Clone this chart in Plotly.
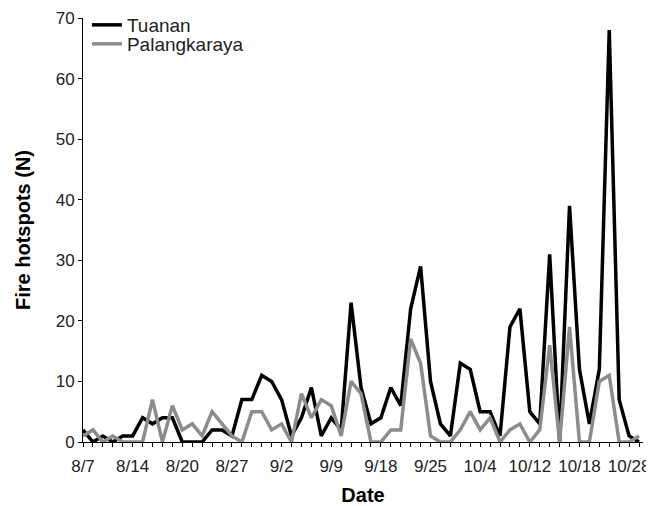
import plotly.graph_objects as go

# Data (daily series, categories indexed 0..56)
tuanan = [2, 0, 1, 0, 1, 1, 4, 3, 4, 4, 0, 0, 0, 2, 2, 1, 7, 7, 11, 10,
          7, 1, 4, 9, 1, 4, 2, 23, 9, 3, 4, 9, 6, 22, 29, 10, 3, 1, 13, 12,
          5, 5, 1, 19, 22, 5, 3, 31, 0, 39, 12, 3, 12, 68, 7, 1, 0]
palangkaraya = [1, 2, 0, 1, 0, 0, 0, 7, 0, 6, 2, 3, 1, 5, 3, 1, 0, 5, 5, 2,
                3, 0, 8, 4, 7, 6, 1, 10, 8, 0, 0, 2, 2, 17, 13, 1, 0, 0, 2, 5,
                2, 4, 0, 2, 3, 0, 2, 16, 0, 19, 0, 0, 10, 11, 0, 0, 1]
date_labels = ["8/7", "8/14", "8/20", "8/27", "9/2", "9/9", "9/18",
               "9/25", "10/4", "10/12", "10/18", "10/28"]
label_step = 5

x = list(range(len(tuanan)))
tickvals = x
ticktext = [date_labels[i // label_step] if (i % label_step == 0 and i // label_step < len(date_labels)) else "" for i in x]

fig = go.Figure()
fig.add_trace(go.Scatter(x=x, y=tuanan, mode="lines", name="Tuanan", legend="legend",
                         line=dict(color="#000000", width=3.5)))
fig.add_trace(go.Scatter(x=x, y=palangkaraya, mode="lines", name="Palangkaraya", legend="legend2",
                         line=dict(color="#8c8c8c", width=3.5)))

font_family = "Liberation Sans, Arial, sans-serif"
leg_common = dict(x=0.007, xanchor="left", yanchor="middle", bgcolor="rgba(0,0,0,0)",
                  font=dict(size=19, color="#222222"), itemwidth=30)

# page body has an 8px margin, so the figure is sized to fit the window
fig.update_layout(
    width=646, height=498,
    margin=dict(l=75, r=11, t=10, b=64, autoexpand=False),
    paper_bgcolor="white", plot_bgcolor="white",
    font=dict(family=font_family, size=16, color="#222222"),
    showlegend=True,
    legend=dict(y=0.9835, **leg_common),
    legend2=dict(y=0.9387, **leg_common),
    xaxis=dict(range=[0, 56.4], tickmode="array", tickvals=tickvals, ticktext=ticktext,
               automargin=False, ticklabelstandoff=5,
               showgrid=False, zeroline=False, showline=True, linecolor="#000000", linewidth=1,
               ticks="outside", ticklen=4, tickcolor="#000000", tickwidth=1,
               tickfont=dict(size=17, color="#222222"),
               title=dict(text="<b>Date</b>", font=dict(size=20, color="#000000"), standoff=14)),
    yaxis=dict(range=[0, 70], tickmode="linear", tick0=0, dtick=10,
               automargin=False,
               showgrid=False, zeroline=False, showline=True, linecolor="#000000", linewidth=1,
               ticks="outside", ticklen=4, tickcolor="#000000", tickwidth=1,
               tickfont=dict(size=17, color="#222222"),
               title=dict(text="<b>Fire hotspots (N)</b>", font=dict(size=20, color="#000000"), standoff=19)),
)

fig.write_html("out.html")
